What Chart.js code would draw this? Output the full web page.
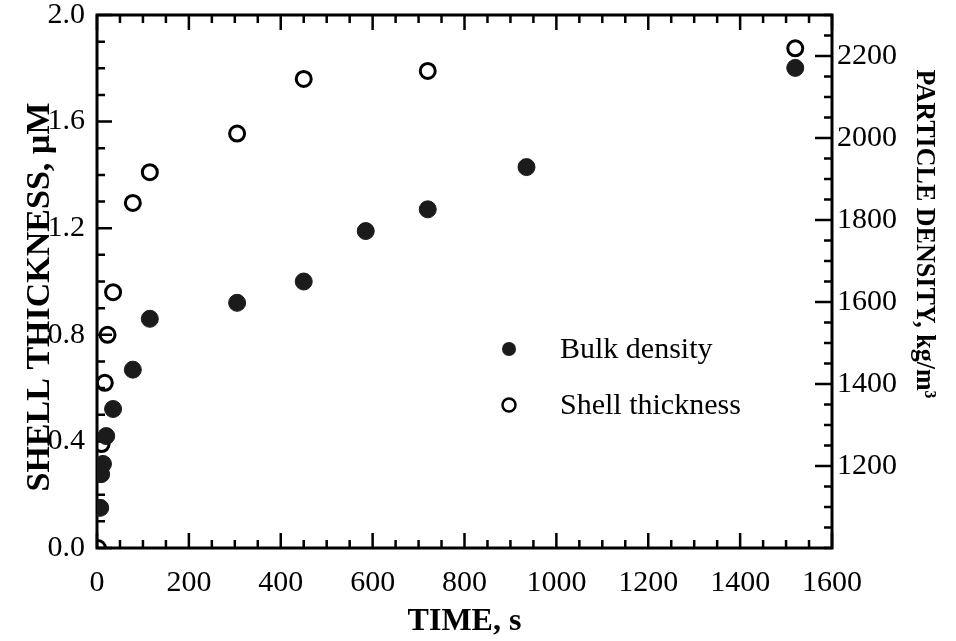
<!DOCTYPE html>
<html>
<head>
<meta charset="utf-8">
<script src="https://cdn.jsdelivr.net/npm/chart.js@4/dist/chart.umd.min.js"></script>
<style>
  html, body { margin: 0; padding: 0; background: #fff; }
  #wrap { width: 956px; height: 641px; }
</style>
</head>
<body>
<div id="wrap"><canvas id="chart" width="956" height="641"></canvas></div>
<script>
// Bulk (particle) density, kg/m3, against residence time, s
const bulkTimes   = [7, 9, 13, 20, 35, 78, 115, 305, 450, 585, 720, 935, 1520];
const bulkDensity = [1098, 1180, 1205, 1273, 1339, 1435, 1559, 1598, 1650, 1773, 1826, 1929, 2171];

// Shell thickness, µm, against residence time, s
const shellTimes     = [2, 10, 17, 23, 35, 78, 115, 305, 450, 720, 1520];
const shellThickness = [0.0, 0.39, 0.62, 0.80, 0.96, 1.295, 1.41, 1.555, 1.76, 1.79, 1.875];

// Labelled tick values
const timeLabels      = [0, 200, 400, 600, 800, 1000, 1200, 1400, 1600];
const thicknessLabels = [0.0, 0.4, 0.8, 1.2, 1.6, 2.0];
const densityLabels   = [1200, 1400, 1600, 1800, 2000, 2200];

const SERIF = "'Liberation Serif', 'Times New Roman', Times, serif";
const INK = '#000';

const near = (v, list) => list.some(l => Math.abs(l - v) < 1e-6);

// Boxed frame with inward minor/major tick marks taken from each scale
const framedAxes = {
  id: 'framedAxes',
  beforeDatasetsDraw(chart) {
    const { ctx, chartArea: a, scales } = chart;
    ctx.save();
    ctx.strokeStyle = INK;
    ctx.lineCap = 'butt';
    ctx.lineWidth = 3;
    ctx.strokeRect(a.left, a.top, a.right - a.left, a.bottom - a.top);

    ctx.lineWidth = 2.5;
    const minor = 8, major = 15;
    ctx.beginPath();
    scales.x.ticks.forEach(t => {
      if (t.value % 50 !== 0) return;
      const px = scales.x.getPixelForValue(t.value);
      const len = near(t.value, timeLabels) ? major : minor;
      ctx.moveTo(px, a.bottom); ctx.lineTo(px, a.bottom - len);
      ctx.moveTo(px, a.top);    ctx.lineTo(px, a.top + len);
    });
    scales.y.ticks.forEach(t => {
      const py = scales.y.getPixelForValue(t.value);
      const len = near(t.value, thicknessLabels) ? major : minor;
      ctx.moveTo(a.left, py); ctx.lineTo(a.left + len, py);
    });
    scales.yR.ticks.forEach(t => {
      if (t.value % 50 !== 0) return;
      const py = scales.yR.getPixelForValue(t.value);
      const len = near(t.value, densityLabels) ? major + 2 : minor;
      ctx.moveTo(a.right, py); ctx.lineTo(a.right - len, py);
    });
    ctx.stroke();
    ctx.restore();
  }
};

// Vertical axis titles beside the left and right scales
const sideTitles = {
  id: 'sideTitles',
  afterDraw(chart) {
    const { ctx } = chart;
    ctx.save();
    ctx.fillStyle = INK;
    ctx.textAlign = 'center';
    ctx.textBaseline = 'middle';

    ctx.save();
    ctx.translate(40, 297);
    ctx.rotate(-Math.PI / 2);
    ctx.font = `bold 34px ${SERIF}`;
    ctx.fillText('SHELL THICKNESS, µM', 0, 0);
    ctx.restore();

    ctx.save();
    ctx.translate(924, 234);
    ctx.rotate(Math.PI / 2);
    ctx.scale(0.93, 1);
    ctx.font = `bold 28px ${SERIF}`;
    ctx.fillText('PARTICLE DENSITY, kg/m³', 0, 0);
    ctx.restore();

    ctx.restore();
  }
};

// Key drawn inside the plot area from the dataset labels and styles
const insetKey = {
  id: 'insetKey',
  afterDatasetsDraw(chart) {
    const { ctx } = chart;
    ctx.save();
    ctx.font = `30px ${SERIF}`;
    ctx.textBaseline = 'middle';
    ctx.textAlign = 'left';
    chart.data.datasets.forEach((ds, i) => {
      const cy = 349 + i * 56;
      const cx = 509;
      ctx.beginPath();
      ctx.arc(cx, cy, ds.keyRadius, 0, Math.PI * 2);
      if (ds.keyFilled) {
        ctx.fillStyle = ds.pointBackgroundColor;
        ctx.fill();
      } else {
        ctx.lineWidth = 2.5;
        ctx.strokeStyle = ds.pointBorderColor;
        ctx.stroke();
      }
      ctx.fillStyle = INK;
      ctx.fillText(ds.label, 560, cy + 1);
    });
    ctx.restore();
  }
};

new Chart(document.getElementById('chart'), {
  type: 'scatter',
  data: {
    datasets: [
      {
        label: 'Bulk density',
        data: bulkTimes.map((t, i) => ({ x: t, y: bulkDensity[i] })),
        yAxisID: 'yR',
        pointStyle: 'circle',
        pointRadius: 8.5,
        pointBackgroundColor: '#1b1b1b',
        pointBorderColor: '#1b1b1b',
        pointBorderWidth: 1,
        keyRadius: 7,
        keyFilled: true
      },
      {
        label: 'Shell thickness',
        data: shellTimes.map((t, i) => ({ x: t, y: shellThickness[i] })),
        yAxisID: 'y',
        pointStyle: 'circle',
        pointRadius: 7.5,
        pointBackgroundColor: 'rgba(255,255,255,0)',
        pointBorderColor: '#000',
        pointBorderWidth: 3,
        keyRadius: 6.5,
        keyFilled: false
      }
    ]
  },
  options: {
    responsive: false,
    animation: false,
    devicePixelRatio: 1,
    layout: { padding: { left: 0, right: 0, top: 15, bottom: 0 } },
    plugins: {
      legend: { display: false },
      tooltip: { enabled: false }
    },
    scales: {
      x: {
        type: 'linear',
        position: 'bottom',
        min: 0,
        max: 1600,
        grid: { display: false, drawTicks: false },
        border: { display: false },
        ticks: {
          stepSize: 50,
          autoSkip: false,
          maxRotation: 0,
          padding: 17,
          color: INK,
          font: { family: SERIF, size: 30 },
          callback: v => near(v, timeLabels) ? String(v) : ''
        },
        title: {
          display: true,
          text: 'TIME, s',
          color: INK,
          font: { family: SERIF, size: 32, weight: 'bold' },
          padding: { top: 0, bottom: 0 }
        },
        afterFit: s => { s.height = 93; s.paddingLeft = 0; s.paddingRight = 0; }
      },
      y: {
        type: 'linear',
        position: 'left',
        min: 0,
        max: 2,
        grid: { display: false, drawTicks: false },
        border: { display: false },
        ticks: {
          stepSize: 0.1,
          autoSkip: false,
          padding: 12,
          color: INK,
          font: { family: SERIF, size: 30 },
          callback: v => near(v, thicknessLabels) ? v.toFixed(1) : ''
        },
        afterFit: s => { s.width = 97; s.paddingTop = 0; s.paddingBottom = 0; }
      },
      yR: {
        type: 'linear',
        position: 'right',
        min: 1000,
        max: 2300,
        grid: { display: false, drawTicks: false },
        border: { display: false },
        ticks: {
          stepSize: 50,
          autoSkip: false,
          padding: 5,
          color: INK,
          font: { family: SERIF, size: 30 },
          callback: v => near(v, densityLabels) ? String(v) : ''
        },
        afterFit: s => { s.width = 124; s.paddingTop = 0; s.paddingBottom = 0; }
      }
    }
  },
  plugins: [framedAxes, insetKey, sideTitles]
});
</script>
</body>
</html>
